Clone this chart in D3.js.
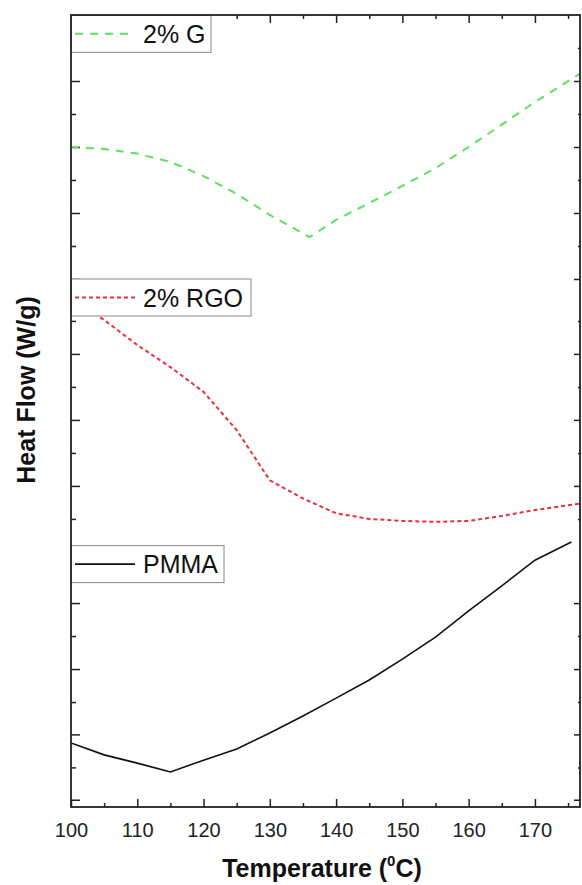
<!DOCTYPE html>
<html>
<head>
<meta charset="utf-8">
<script src="https://cdn.jsdelivr.net/npm/d3@7"></script>
<style>
  body { margin: 0; background: #fff; }
  text { font-family: "Liberation Sans", Arial, sans-serif; }
</style>
</head>
<body>
<div id="chart"></div>
<script>
// data (y in arbitrary heat flow units, curves stacked with offsets)
var tempG   = [100, 105, 110, 115, 120, 125, 130, 136, 140, 145, 150, 155, 160, 165, 170, 177];
var flowG   = [20.0, 19.94, 19.8, 19.55, 19.12, 18.58, 17.94, 17.27, 17.79, 18.30, 18.82, 19.36, 20.0, 20.68, 21.36, 22.25];

var tempRGO = [100, 105, 110, 115, 120, 125, 130, 135, 140, 145, 150, 155, 160, 165, 170, 177];
var flowRGO = [15.42, 14.76, 14.0, 13.33, 12.58, 11.42, 9.9, 9.35, 8.9, 8.73, 8.67, 8.64, 8.67, 8.82, 9.0, 9.2];

var tempPMMA = [100, 105, 110, 115, 120, 125, 130, 135, 140, 145, 150, 155, 160, 165, 170, 175.5];
var flowPMMA = [1.94, 1.58, 1.33, 1.06, 1.42, 1.76, 2.24, 2.76, 3.30, 3.85, 4.48, 5.15, 5.94, 6.70, 7.48, 8.03];

var seriesNames = ["2% G", "2% RGO", "PMMA"];

var xMajorTicks = [100, 110, 120, 130, 140, 150, 160, 170];
var xMinorTicks = [105, 115, 125, 135, 145, 155, 165, 175];

// y ticks, one block per stacked panel
var yMajorTicks = [22, 20, 18, 16, 13.73, 11.73, 9.73, 6.18, 4.18, 2.2, 0.22];
var yMinorTicks = [23, 21, 19, 17, 14.73, 12.73, 10.73, 8.73, 5.18, 3.18, 1.2];

function main() {
    var W = 582, H = 885;
    var margin = {top: 15, right: 2, bottom: 78, left: 71},
        width = W - margin.left - margin.right,
        height = H - margin.top - margin.bottom;

    var svg = d3.select("#chart").append("svg")
        .attr("width", W)
        .attr("height", H);

    var g = svg.append("g")
        .attr("transform", "translate(" + margin.left + "," + margin.top + ")");

    var x = d3.scaleLinear().domain([100, 176.8]).range([0, width]);
    var y = d3.scaleLinear().domain([0, 24]).range([height, 0]);

    g.append("clipPath").attr("id", "clip")
        .append("rect").attr("width", width).attr("height", height);

    var tickColor = "#222";

    // bottom axis: labelled major ticks pointing inward
    var xAxis = g.append("g")
        .attr("transform", "translate(0," + height + ")")
        .call(d3.axisBottom(x).tickValues(xMajorTicks).tickSize(-8).tickPadding(16).tickFormat(d3.format("d")));
    xAxis.select(".domain").remove();
    xAxis.selectAll("line").attr("stroke", tickColor).attr("stroke-width", 1.5);
    xAxis.selectAll("text")
        .attr("font-size", "20px")
        .attr("fill", "#222")
        .attr("dy", "0.71em");

    var xMinor = g.append("g")
        .attr("transform", "translate(0," + height + ")")
        .call(d3.axisBottom(x).tickValues(xMinorTicks).tickSize(-4).tickFormat(""));
    xMinor.select(".domain").remove();
    xMinor.selectAll("line").attr("stroke", tickColor).attr("stroke-width", 1.5);

    // top axis ticks pointing down
    [[xMajorTicks, -8], [xMinorTicks, -4]].forEach(function (t) {
        var a = g.append("g").call(d3.axisTop(x).tickValues(t[0]).tickSize(t[1]).tickFormat(""));
        a.select(".domain").remove();
        a.selectAll("line").attr("stroke", tickColor).attr("stroke-width", 1.5);
    });

    // left axis ticks pointing right
    [[yMajorTicks, -9], [yMinorTicks, -5]].forEach(function (t) {
        var a = g.append("g").call(d3.axisLeft(y).tickValues(t[0]).tickSize(t[1]).tickFormat(""));
        a.select(".domain").remove();
        a.selectAll("line").attr("stroke", tickColor).attr("stroke-width", 1.5);
    });

    // right axis ticks pointing left
    [[yMajorTicks, -6], [yMinorTicks, -2]].forEach(function (t) {
        var a = g.append("g")
            .attr("transform", "translate(" + width + ",0)")
            .call(d3.axisRight(y).tickValues(t[0]).tickSize(t[1]).tickFormat(""));
        a.select(".domain").remove();
        a.selectAll("line").attr("stroke", tickColor).attr("stroke-width", 1.5);
    });

    // curves
    var line = d3.line()
        .x(function (d) { return x(d[0]); })
        .y(function (d) { return y(d[1]); });

    var series = [
        {name: seriesNames[0], t: tempG, v: flowG, color: "#5fe05f", dash: "8,7", w: 2},
        {name: seriesNames[1], t: tempRGO, v: flowRGO, color: "#e8303f", dash: "4,3", w: 2},
        {name: seriesNames[2], t: tempPMMA, v: flowPMMA, color: "#111", dash: null, w: 1.6}
    ];

    var plot = g.append("g").attr("clip-path", "url(#clip)");
    series.forEach(function (s) {
        plot.append("path")
            .attr("d", line(d3.zip(s.t, s.v)))
            .attr("fill", "none")
            .attr("stroke", s.color)
            .attr("stroke-width", s.w)
            .attr("stroke-dasharray", s.dash);
    });

    // legend boxes, one per panel
    var legendTop = [23.99, 16.0, 7.92];
    var legendW = [140, 180, 153];
    series.forEach(function (s, i) {
        var lg = g.append("g")
            .attr("transform", "translate(0," + y(legendTop[i]) + ")");
        lg.append("rect")
            .attr("width", legendW[i])
            .attr("height", 37)
            .attr("fill", "#fff")
            .attr("stroke", "#888")
            .attr("stroke-width", 1);
        lg.append("line")
            .attr("x1", 4).attr("x2", 64)
            .attr("y1", 18.5).attr("y2", 18.5)
            .attr("stroke", s.color)
            .attr("stroke-width", s.w)
            .attr("stroke-dasharray", s.dash);
        lg.append("text")
            .attr("x", 72)
            .attr("y", 27.5)
            .attr("font-size", "25px")
            .attr("fill", "#111")
            .text(s.name);
    });

    // frame
    g.append("rect")
        .attr("width", width)
        .attr("height", height)
        .attr("fill", "none")
        .attr("stroke", "#222")
        .attr("stroke-width", 1.8);

    // axis titles
    var xt = svg.append("text")
        .attr("x", 322)
        .attr("y", 877)
        .attr("text-anchor", "middle")
        .attr("font-size", "25px")
        .attr("font-weight", "bold")
        .attr("fill", "#111");
    xt.append("tspan").text("Temperature (");
    xt.append("tspan").attr("font-size", "15px").attr("dy", "-11").text("0");
    xt.append("tspan").attr("dy", "11").text("C)");

    svg.append("text")
        .attr("transform", "translate(35,390) rotate(-90)")
        .attr("text-anchor", "middle")
        .attr("font-size", "25px")
        .attr("font-weight", "bold")
        .attr("fill", "#111")
        .text("Heat Flow (W/g)");
}

main()
</script>
</body>
</html>
